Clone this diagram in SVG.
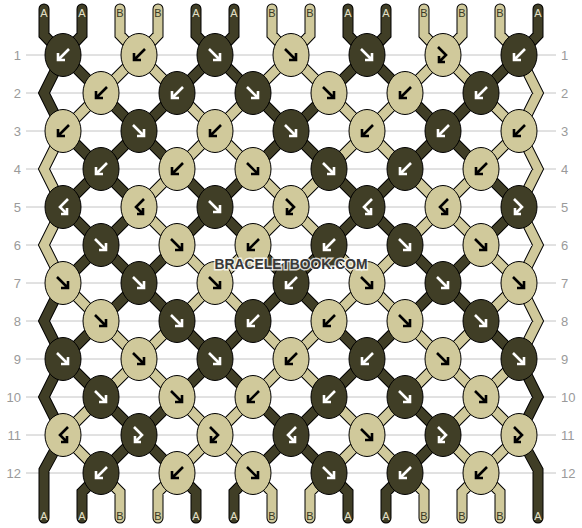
<svg xmlns="http://www.w3.org/2000/svg" xmlns:xlink="http://www.w3.org/1999/xlink" width="582" height="528" viewBox="0 0 582 528">
<style>
.grid line{stroke:#c4c4c4;stroke-width:1}
.rl{font-family:"Liberation Sans",Arial,sans-serif;font-size:13px;fill:#9a9a9a}
.sl{font-family:"Liberation Sans",Arial,sans-serif;font-size:11px;text-anchor:middle}
.ta{fill:#e4e0c8}.tb{fill:#3a3926}
.o{fill:none;stroke:#000;stroke-width:11;stroke-linecap:round;stroke-linejoin:miter}
.fd{fill:none;stroke:#403e26;stroke-width:9;stroke-linecap:round;stroke-linejoin:miter}
.fl{fill:none;stroke:#d0c99b;stroke-width:9;stroke-linecap:round;stroke-linejoin:miter}
.d{fill:#403e26;stroke:#000;stroke-width:1}
.l{fill:#d0c99b;stroke:#000;stroke-width:1}
.aw{fill:none;stroke:#fff;stroke-width:2.6}
.ab{fill:none;stroke:#000;stroke-width:2.6}
.wm{font-family:"Liberation Sans",Arial,sans-serif;font-weight:bold;font-size:15px;fill:#383838;stroke:#fff;stroke-width:3;stroke-opacity:0.8;paint-order:stroke;text-anchor:middle}
</style>
<defs>
<path id="F" d="M-6-6L5 5M5-2V5H-2"/>
<path id="B" d="M6-6L-5 5M-5-2V5H2"/>
<path id="FB" d="M-5-8L3 0L-4 7M-4 1V7H2"/>
<path id="BF" d="M5-8L-3 0L4 7M4 1V7H-2"/>
<path id="sD" d="M44 9V35L63 55M82 9V35L63 55M196 9V35L215 55M234 9V35L215 55M348 9V35L367 55M386 9V35L367 55M538 9V35L519 55
M63 55L44 93L63 131M63 55l38 38M215 55l-38 38M215 55l38 38M367 55l-38 38M367 55l38 38M519 55l-38 38
M101 93l38 38M177 93l-38 38M253 93l38 38M329 93l-38 38M405 93l38 38M481 93l-38 38
M63 131l38 38M139 131l-38 38M139 131l38 38M291 131l-38 38M291 131l38 38M443 131l-38 38M443 131l38 38
M101 169l-38 38M101 169l38 38M177 169l38 38M253 169l-38 38M329 169l38 38M405 169l-38 38M481 169l38 38
M63 207l38 38M139 207l-38 38M215 207l-38 38M215 207l38 38M367 207l-38 38M367 207l38 38M519 207l-38 38
M101 245l-38 38M101 245l38 38M177 245l-38 38M253 245l38 38M329 245l-38 38M405 245l38 38M481 245l-38 38
M63 283L44 321L63 359M139 283l-38 38M139 283l38 38M291 283l-38 38M291 283l38 38M443 283l-38 38M443 283l38 38
M101 321l-38 38M177 321l38 38M253 321l-38 38M329 321l38 38M405 321l-38 38M481 321l38 38
M63 359L44 397L63 435M63 359l38 38M215 359l-38 38M215 359l38 38M367 359l-38 38M367 359l38 38M519 359L538 397L519 435
M101 397l38 38M177 397l-38 38M253 397l38 38M329 397l-38 38M405 397l38 38
M63 435L44 470V518M139 435l-38 38M139 435l38 38M291 435l-38 38M291 435l38 38M443 435l-38 38M519 435L538 470V518
M101 473l-19 19V518M177 473l19 19V518M253 473l-19 19V518M329 473l19 19V518M405 473l-19 19V518"/>
<path id="sL" d="M120 9V35L139 55M158 9V35L139 55M272 9V35L291 55M310 9V35L291 55M424 9V35L443 55M462 9V35L443 55M500 9V35L519 55
M139 55l-38 38M139 55l38 38M291 55l-38 38M291 55l38 38M443 55l-38 38M443 55l38 38M519 55L538 93L519 131
M101 93l-38 38M177 93l38 38M253 93l-38 38M329 93l38 38M405 93l-38 38M481 93l38 38
M63 131L44 169L63 207M215 131l-38 38M215 131l38 38M367 131l-38 38M367 131l38 38M519 131l-38 38M519 131L538 169L519 207
M177 169l-38 38M253 169l38 38M329 169l-38 38M405 169l38 38M481 169l-38 38
M63 207L44 245L63 283M139 207l38 38M291 207l-38 38M291 207l38 38M443 207l-38 38M443 207l38 38M519 207L538 245L519 283
M177 245l38 38M253 245l-38 38M329 245l38 38M405 245l-38 38M481 245l38 38
M63 283l38 38M215 283l-38 38M215 283l38 38M367 283l-38 38M367 283l38 38M519 283l-38 38M519 283L538 321L519 359
M101 321l38 38M177 321l-38 38M253 321l38 38M329 321l-38 38M405 321l38 38M481 321l-38 38
M139 359l-38 38M139 359l38 38M291 359l-38 38M291 359l38 38M443 359l-38 38M443 359l38 38M519 359l-38 38
M101 397l-38 38M177 397l38 38M253 397l-38 38M329 397l38 38M405 397l-38 38M481 397l-38 38M481 397l38 38
M63 435l38 38M215 435l-38 38M215 435l38 38M367 435l-38 38M367 435l38 38M443 435l38 38M519 435l-38 38
M101 473l19 19V518M177 473l-19 19V518M253 473l19 19V518M329 473l-19 19V518M405 473l19 19V518M481 473l-19 19V518M481 473l19 19V518"/>
</defs>
<rect width="582" height="528" fill="#fff"/>
<g class="grid">
<line x1="26" y1="55" x2="556" y2="55"/><line x1="26" y1="93" x2="556" y2="93"/><line x1="26" y1="131" x2="556" y2="131"/><line x1="26" y1="169" x2="556" y2="169"/><line x1="26" y1="207" x2="556" y2="207"/><line x1="26" y1="245" x2="556" y2="245"/><line x1="26" y1="283" x2="556" y2="283"/><line x1="26" y1="321" x2="556" y2="321"/><line x1="26" y1="359" x2="556" y2="359"/><line x1="26" y1="397" x2="556" y2="397"/><line x1="26" y1="435" x2="556" y2="435"/><line x1="26" y1="473" x2="556" y2="473"/>
</g>
<g class="rl" text-anchor="end">
<text x="21" y="60">1</text><text x="21" y="98">2</text><text x="21" y="136">3</text><text x="21" y="174">4</text><text x="21" y="212">5</text><text x="21" y="250">6</text><text x="21" y="288">7</text><text x="21" y="326">8</text><text x="21" y="364">9</text><text x="21" y="402">10</text><text x="21" y="440">11</text><text x="21" y="478">12</text>
</g>
<g class="rl">
<text x="561" y="60">1</text><text x="561" y="98">2</text><text x="561" y="136">3</text><text x="561" y="174">4</text><text x="561" y="212">5</text><text x="561" y="250">6</text><text x="561" y="288">7</text><text x="561" y="326">8</text><text x="561" y="364">9</text><text x="561" y="402">10</text><text x="561" y="440">11</text><text x="561" y="478">12</text>
</g>
<g id="connectors">
<use href="#sD" class="o"/><use href="#sL" class="o"/>
<use href="#sD" class="fd"/><use href="#sL" class="fl"/>
</g>
<g id="string-labels" class="sl">
<text class="ta" x="44" y="17">A</text><text class="ta" x="82" y="17">A</text><text class="tb" x="120" y="17">B</text><text class="tb" x="158" y="17">B</text><text class="ta" x="196" y="17">A</text><text class="ta" x="234" y="17">A</text><text class="tb" x="272" y="17">B</text><text class="tb" x="310" y="17">B</text><text class="ta" x="348" y="17">A</text><text class="ta" x="386" y="17">A</text><text class="tb" x="424" y="17">B</text><text class="tb" x="462" y="17">B</text><text class="tb" x="500" y="17">B</text><text class="ta" x="538" y="17">A</text>
<text class="ta" x="44" y="520">A</text><text class="ta" x="82" y="520">A</text><text class="tb" x="120" y="520">B</text><text class="tb" x="158" y="520">B</text><text class="ta" x="196" y="520">A</text><text class="ta" x="234" y="520">A</text><text class="tb" x="272" y="520">B</text><text class="tb" x="310" y="520">B</text><text class="ta" x="348" y="520">A</text><text class="ta" x="386" y="520">A</text><text class="tb" x="424" y="520">B</text><text class="tb" x="462" y="520">B</text><text class="tb" x="500" y="520">B</text><text class="ta" x="538" y="520">A</text>
</g>
<g id="knots">
<g id="k1-1" transform="translate(63 55)"><ellipse class="d" rx="18" ry="21.5"/><use href="#B" class="aw"/></g>
<g id="k1-2" transform="translate(139 55)"><ellipse class="l" rx="18" ry="21.5"/><use href="#B" class="ab"/></g>
<g id="k1-3" transform="translate(215 55)"><ellipse class="d" rx="18" ry="21.5"/><use href="#F" class="aw"/></g>
<g id="k1-4" transform="translate(291 55)"><ellipse class="l" rx="18" ry="21.5"/><use href="#F" class="ab"/></g>
<g id="k1-5" transform="translate(367 55)"><ellipse class="d" rx="18" ry="21.5"/><use href="#F" class="aw"/></g>
<g id="k1-6" transform="translate(443 55)"><ellipse class="l" rx="18" ry="21.5"/><use href="#FB" class="ab"/></g>
<g id="k1-7" transform="translate(519 55)"><ellipse class="d" rx="18" ry="21.5"/><use href="#B" class="aw"/></g>

<g id="k2-1" transform="translate(101 93)"><ellipse class="l" rx="18" ry="21.5"/><use href="#B" class="ab"/></g>
<g id="k2-2" transform="translate(177 93)"><ellipse class="d" rx="18" ry="21.5"/><use href="#B" class="aw"/></g>
<g id="k2-3" transform="translate(253 93)"><ellipse class="d" rx="18" ry="21.5"/><use href="#F" class="aw"/></g>
<g id="k2-4" transform="translate(329 93)"><ellipse class="l" rx="18" ry="21.5"/><use href="#F" class="ab"/></g>
<g id="k2-5" transform="translate(405 93)"><ellipse class="l" rx="18" ry="21.5"/><use href="#B" class="ab"/></g>
<g id="k2-6" transform="translate(481 93)"><ellipse class="d" rx="18" ry="21.5"/><use href="#B" class="aw"/></g>

<g id="k3-1" transform="translate(63 131)"><ellipse class="l" rx="18" ry="21.5"/><use href="#B" class="ab"/></g>
<g id="k3-2" transform="translate(139 131)"><ellipse class="d" rx="18" ry="21.5"/><use href="#F" class="aw"/></g>
<g id="k3-3" transform="translate(215 131)"><ellipse class="l" rx="18" ry="21.5"/><use href="#B" class="ab"/></g>
<g id="k3-4" transform="translate(291 131)"><ellipse class="d" rx="18" ry="21.5"/><use href="#F" class="aw"/></g>
<g id="k3-5" transform="translate(367 131)"><ellipse class="l" rx="18" ry="21.5"/><use href="#B" class="ab"/></g>
<g id="k3-6" transform="translate(443 131)"><ellipse class="d" rx="18" ry="21.5"/><use href="#B" class="aw"/></g>
<g id="k3-7" transform="translate(519 131)"><ellipse class="l" rx="18" ry="21.5"/><use href="#B" class="ab"/></g>

<g id="k4-1" transform="translate(101 169)"><ellipse class="d" rx="18" ry="21.5"/><use href="#B" class="aw"/></g>
<g id="k4-2" transform="translate(177 169)"><ellipse class="l" rx="18" ry="21.5"/><use href="#B" class="ab"/></g>
<g id="k4-3" transform="translate(253 169)"><ellipse class="l" rx="18" ry="21.5"/><use href="#F" class="ab"/></g>
<g id="k4-4" transform="translate(329 169)"><ellipse class="d" rx="18" ry="21.5"/><use href="#F" class="aw"/></g>
<g id="k4-5" transform="translate(405 169)"><ellipse class="d" rx="18" ry="21.5"/><use href="#B" class="aw"/></g>
<g id="k4-6" transform="translate(481 169)"><ellipse class="l" rx="18" ry="21.5"/><use href="#B" class="ab"/></g>

<g id="k5-1" transform="translate(63 207)"><ellipse class="d" rx="18" ry="21.5"/><use href="#BF" class="aw"/></g>
<g id="k5-2" transform="translate(139 207)"><ellipse class="l" rx="18" ry="21.5"/><use href="#BF" class="ab"/></g>
<g id="k5-3" transform="translate(215 207)"><ellipse class="d" rx="18" ry="21.5"/><use href="#F" class="aw"/></g>
<g id="k5-4" transform="translate(291 207)"><ellipse class="l" rx="18" ry="21.5"/><use href="#FB" class="ab"/></g>
<g id="k5-5" transform="translate(367 207)"><ellipse class="d" rx="18" ry="21.5"/><use href="#BF" class="aw"/></g>
<g id="k5-6" transform="translate(443 207)"><ellipse class="l" rx="18" ry="21.5"/><use href="#BF" class="ab"/></g>
<g id="k5-7" transform="translate(519 207)"><ellipse class="d" rx="18" ry="21.5"/><use href="#FB" class="aw"/></g>

<g id="k6-1" transform="translate(101 245)"><ellipse class="d" rx="18" ry="21.5"/><use href="#F" class="aw"/></g>
<g id="k6-2" transform="translate(177 245)"><ellipse class="l" rx="18" ry="21.5"/><use href="#F" class="ab"/></g>
<g id="k6-3" transform="translate(253 245)"><ellipse class="l" rx="18" ry="21.5"/><use href="#B" class="ab"/></g>
<g id="k6-4" transform="translate(329 245)"><ellipse class="d" rx="18" ry="21.5"/><use href="#B" class="aw"/></g>
<g id="k6-5" transform="translate(405 245)"><ellipse class="d" rx="18" ry="21.5"/><use href="#F" class="aw"/></g>
<g id="k6-6" transform="translate(481 245)"><ellipse class="l" rx="18" ry="21.5"/><use href="#F" class="ab"/></g>

<g id="k7-1" transform="translate(63 283)"><ellipse class="l" rx="18" ry="21.5"/><use href="#F" class="ab"/></g>
<g id="k7-2" transform="translate(139 283)"><ellipse class="d" rx="18" ry="21.5"/><use href="#F" class="aw"/></g>
<g id="k7-3" transform="translate(215 283)"><ellipse class="l" rx="18" ry="21.5"/><use href="#F" class="ab"/></g>
<g id="k7-4" transform="translate(291 283)"><ellipse class="d" rx="18" ry="21.5"/><use href="#B" class="aw"/></g>
<g id="k7-5" transform="translate(367 283)"><ellipse class="l" rx="18" ry="21.5"/><use href="#F" class="ab"/></g>
<g id="k7-6" transform="translate(443 283)"><ellipse class="d" rx="18" ry="21.5"/><use href="#F" class="aw"/></g>
<g id="k7-7" transform="translate(519 283)"><ellipse class="l" rx="18" ry="21.5"/><use href="#F" class="ab"/></g>

<g id="k8-1" transform="translate(101 321)"><ellipse class="l" rx="18" ry="21.5"/><use href="#F" class="ab"/></g>
<g id="k8-2" transform="translate(177 321)"><ellipse class="d" rx="18" ry="21.5"/><use href="#F" class="aw"/></g>
<g id="k8-3" transform="translate(253 321)"><ellipse class="d" rx="18" ry="21.5"/><use href="#B" class="aw"/></g>
<g id="k8-4" transform="translate(329 321)"><ellipse class="l" rx="18" ry="21.5"/><use href="#B" class="ab"/></g>
<g id="k8-5" transform="translate(405 321)"><ellipse class="l" rx="18" ry="21.5"/><use href="#F" class="ab"/></g>
<g id="k8-6" transform="translate(481 321)"><ellipse class="d" rx="18" ry="21.5"/><use href="#F" class="aw"/></g>

<g id="k9-1" transform="translate(63 359)"><ellipse class="d" rx="18" ry="21.5"/><use href="#F" class="aw"/></g>
<g id="k9-2" transform="translate(139 359)"><ellipse class="l" rx="18" ry="21.5"/><use href="#F" class="ab"/></g>
<g id="k9-3" transform="translate(215 359)"><ellipse class="d" rx="18" ry="21.5"/><use href="#F" class="aw"/></g>
<g id="k9-4" transform="translate(291 359)"><ellipse class="l" rx="18" ry="21.5"/><use href="#B" class="ab"/></g>
<g id="k9-5" transform="translate(367 359)"><ellipse class="d" rx="18" ry="21.5"/><use href="#B" class="aw"/></g>
<g id="k9-6" transform="translate(443 359)"><ellipse class="l" rx="18" ry="21.5"/><use href="#F" class="ab"/></g>
<g id="k9-7" transform="translate(519 359)"><ellipse class="d" rx="18" ry="21.5"/><use href="#F" class="aw"/></g>

<g id="k10-1" transform="translate(101 397)"><ellipse class="d" rx="18" ry="21.5"/><use href="#F" class="aw"/></g>
<g id="k10-2" transform="translate(177 397)"><ellipse class="l" rx="18" ry="21.5"/><use href="#F" class="ab"/></g>
<g id="k10-3" transform="translate(253 397)"><ellipse class="l" rx="18" ry="21.5"/><use href="#B" class="ab"/></g>
<g id="k10-4" transform="translate(329 397)"><ellipse class="d" rx="18" ry="21.5"/><use href="#B" class="aw"/></g>
<g id="k10-5" transform="translate(405 397)"><ellipse class="d" rx="18" ry="21.5"/><use href="#F" class="aw"/></g>
<g id="k10-6" transform="translate(481 397)"><ellipse class="l" rx="18" ry="21.5"/><use href="#F" class="ab"/></g>

<g id="k11-1" transform="translate(63 435)"><ellipse class="l" rx="18" ry="21.5"/><use href="#BF" class="ab"/></g>
<g id="k11-2" transform="translate(139 435)"><ellipse class="d" rx="18" ry="21.5"/><use href="#FB" class="aw"/></g>
<g id="k11-3" transform="translate(215 435)"><ellipse class="l" rx="18" ry="21.5"/><use href="#FB" class="ab"/></g>
<g id="k11-4" transform="translate(291 435)"><ellipse class="d" rx="18" ry="21.5"/><use href="#BF" class="aw"/></g>
<g id="k11-5" transform="translate(367 435)"><ellipse class="l" rx="18" ry="21.5"/><use href="#F" class="ab"/></g>
<g id="k11-6" transform="translate(443 435)"><ellipse class="d" rx="18" ry="21.5"/><use href="#FB" class="aw"/></g>
<g id="k11-7" transform="translate(519 435)"><ellipse class="l" rx="18" ry="21.5"/><use href="#FB" class="ab"/></g>

<g id="k12-1" transform="translate(101 473)"><ellipse class="d" rx="18" ry="21.5"/><use href="#B" class="aw"/></g>
<g id="k12-2" transform="translate(177 473)"><ellipse class="l" rx="18" ry="21.5"/><use href="#B" class="ab"/></g>
<g id="k12-3" transform="translate(253 473)"><ellipse class="l" rx="18" ry="21.5"/><use href="#F" class="ab"/></g>
<g id="k12-4" transform="translate(329 473)"><ellipse class="d" rx="18" ry="21.5"/><use href="#F" class="aw"/></g>
<g id="k12-5" transform="translate(405 473)"><ellipse class="d" rx="18" ry="21.5"/><use href="#B" class="aw"/></g>
<g id="k12-6" transform="translate(481 473)"><ellipse class="l" rx="18" ry="21.5"/><use href="#B" class="ab"/></g>
</g>
<text class="wm" x="291" y="269" textLength="153" lengthAdjust="spacingAndGlyphs">BRACELETBOOK.COM</text>
</svg>
